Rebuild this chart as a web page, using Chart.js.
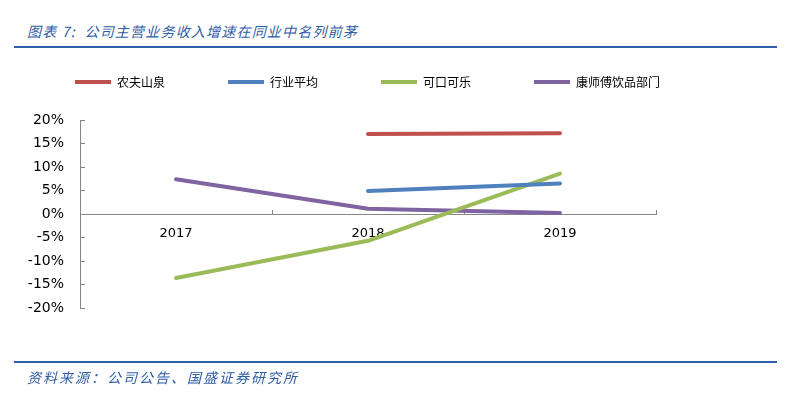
<!DOCTYPE html>
<html>
<head>
<meta charset="utf-8">
<script src="https://cdn.jsdelivr.net/npm/chart.js@4.4.0/dist/chart.umd.min.js"></script>
<style>
  html, body { margin: 0; padding: 0; background: #fff; }
  #wrap { position: relative; width: 800px; height: 416px; overflow: hidden; }
  #chart { position: absolute; left: 0; top: 0; }
  .caption { position: absolute; font-family: "Noto Sans CJK SC", sans-serif; font-style: italic; color: #2F5DA6; white-space: nowrap; line-height: 1; }
  #title { left: 27px; top: 24px; font-size: 14px; letter-spacing: 1.2px; }
  #source { left: 27px; top: 370px; font-size: 14px; letter-spacing: 2px; }
  .rule { position: absolute; left: 14px; width: 763px; height: 2px; background: #2E5FA8; }
</style>
</head>
<body>
<div id="wrap">
  <div id="title" class="caption">图表 7:&nbsp; 公司主营业务收入增速在同业中名列前茅</div>
  <div class="rule" style="top: 46px;"></div>
  <canvas id="chart" width="800" height="416"></canvas>
  <div class="rule" style="top: 361px;"></div>
  <div id="source" class="caption">资料来源：公司公告、国盛证券研究所</div>
</div>
<script>
// 数据
const years = ['2017', '2018', '2019'];
const nongfuSpring = [null, 17.0, 17.2];   // 农夫山泉
const industryAvg = [null, 4.9, 6.5];      // 行业平均
const cocaCola = [-13.6, -5.7, 8.6];       // 可口可乐
const masterKong = [7.4, 1.1, 0.2];        // 康师傅饮品部门
const yTickValues = [-20, -15, -10, -5, 0, 5, 10, 15, 20];

const axisGray = '#868686';

function lineSet(label, data, color) {
  return {
    label: label,
    data: data,
    borderColor: color,
    backgroundColor: color,
    borderWidth: 4,
    borderCapStyle: 'round',
    borderJoinStyle: 'round',
    pointRadius: 0,
    pointHoverRadius: 0,
    tension: 0,
    fill: false
  };
}

const ctx = document.getElementById('chart').getContext('2d');
new Chart(ctx, {
  type: 'line',
  data: {
    labels: years,
    datasets: [
      lineSet('农夫山泉', nongfuSpring, '#C0504D'),
      lineSet('行业平均', industryAvg, '#4F81BD'),
      lineSet('可口可乐', cocaCola, '#9BBB59'),
      lineSet('康师傅饮品部门', masterKong, '#8064A2')
    ]
  },
  options: {
    responsive: false,
    animation: false,
    layout: { padding: { left: 12, right: 0, top: 13, bottom: 108 } },
    plugins: {
      tooltip: { enabled: false },
      legend: {
        position: 'top',
        align: 'start',
        labels: {
          usePointStyle: true,
          pointStyle: 'line',
          pointStyleWidth: 36,
          padding: 63,
          color: '#000',
          font: { family: '"Noto Sans CJK SC", sans-serif', size: 12 }
        }
      }
    },
    scales: {
      x: {
        type: 'category',
        offset: true,
        position: { y: 0 },
        afterFit: s => { s.height = 20; },
        grid: { offset: true, drawOnChartArea: false, tickLength: -5, color: axisGray },
        border: { color: axisGray, width: 1 },
        ticks: { padding: 17, color: '#000', font: { family: '"DejaVu Sans", sans-serif', size: 13 } }
      },
      y: {
        min: -20,
        max: 20,
        afterBuildTicks: s => { s.ticks = yTickValues.map(v => ({ value: v })); },
        afterFit: s => { s.width = 68; },
        grid: { drawOnChartArea: false, tickLength: -5, color: axisGray },
        border: { color: axisGray, width: 1 },
        ticks: {
          padding: 21,
          color: '#000',
          font: { family: '"DejaVu Sans", sans-serif', size: 14 },
          callback: value => value + '%'
        }
      },
      // 占位轴：只用来把绘图区推到与原图相同的位置
      xTop: {
        type: 'category',
        position: 'top',
        grid: { display: false },
        border: { display: false },
        ticks: { display: false },
        afterFit: s => { s.height = 22; }
      },
      yRight: {
        position: 'right',
        grid: { display: false },
        border: { display: false },
        ticks: { display: false },
        afterFit: s => { s.width = 144; }
      }
    }
  }
});
</script>
</body>
</html>
